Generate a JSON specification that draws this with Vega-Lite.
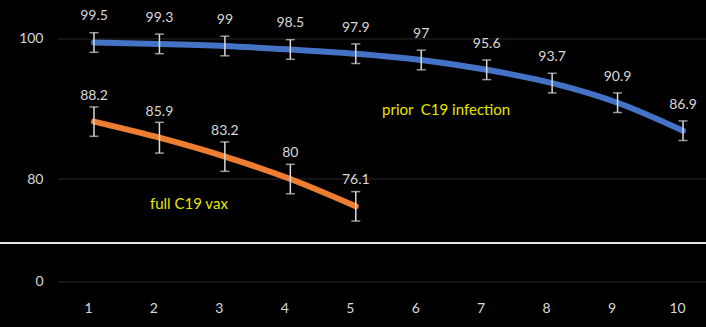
{
  "$schema": "https://vega.github.io/schema/vega-lite/v6.json",
  "width": 706,
  "height": 296,
  "autosize": {"type": "none"},
  "padding": {"left": 0, "top": 0, "right": 0, "bottom": 31},
  "background": "#000000",
  "config": {"view": {"stroke": null}, "font": "Lato"},
  "datasets": {
    "pts": [
      {"x": 1, "v": 99.5, "lo": 98.1, "hi": 100.9, "s": "prior"},
      {"x": 2, "v": 99.3, "lo": 97.9, "hi": 100.7, "s": "prior"},
      {"x": 3, "v": 99.0, "lo": 97.6, "hi": 100.4, "s": "prior"},
      {"x": 4, "v": 98.5, "lo": 97.1, "hi": 99.9, "s": "prior"},
      {"x": 5, "v": 97.9, "lo": 96.5, "hi": 99.3, "s": "prior"},
      {"x": 6, "v": 97.0, "lo": 95.6, "hi": 98.4, "s": "prior"},
      {"x": 7, "v": 95.6, "lo": 94.2, "hi": 97.0, "s": "prior"},
      {"x": 8, "v": 93.7, "lo": 92.3, "hi": 95.1, "s": "prior"},
      {"x": 9, "v": 90.9, "lo": 89.5, "hi": 92.3, "s": "prior"},
      {"x": 10, "v": 86.9, "lo": 85.5, "hi": 88.3, "s": "prior"},
      {"x": 1, "v": 88.2, "lo": 86.1, "hi": 90.3, "s": "full"},
      {"x": 2, "v": 85.9, "lo": 83.7, "hi": 88.1, "s": "full"},
      {"x": 3, "v": 83.2, "lo": 81.1, "hi": 85.3, "s": "full"},
      {"x": 4, "v": 80.0, "lo": 77.9, "hi": 82.1, "s": "full"},
      {"x": 5, "v": 76.1, "lo": 74.0, "hi": 78.2, "s": "full"}
    ],
    "grid": [{"g": 0}, {"g": 80}, {"g": 100}],
    "brk": [{"b": 40}],
    "notes": [
      {"x": 6.38, "y": 89.86, "label": "prior\u00a0 C19 infection"},
      {"x": 2.45, "y": 76.43, "label": "full C19 vax"}
    ]
  },
  "layer": [
    {
      "data": {"name": "grid"},
      "mark": {"type": "rule", "color": "#2b2b2b", "strokeWidth": 1},
      "encoding": {
        "y": {
          "field": "g", "type": "quantitative",
          "scale": {"domain": [-2, 5.57, 70.86, 105.57], "range": [296, 243, 243, 0], "nice": false, "zero": false},
          "axis": {"values": [0, 80, 100], "grid": false, "domain": false, "ticks": false, "labelColor": "#d9d9d9", "labelFontSize": 14, "labelPadding": 5, "offset": -48, "title": null}
        },
        "x": {
          "datum": 0.45, "type": "quantitative",
          "scale": {"domain": [-0.436, 10.351], "nice": false, "zero": false},
          "axis": {"values": [1, 2, 3, 4, 5, 6, 7, 8, 9, 10], "format": "d", "grid": false, "domain": false, "ticks": false, "labelColor": "#d9d9d9", "labelFontSize": 14, "labelPadding": 5, "labelOffset": -6, "title": null}
        },
        "x2": {"datum": 10.351}
      }
    },
    {
      "data": {"name": "brk"},
      "mark": {"type": "rule", "color": "#e6e6e6", "strokeWidth": 2},
      "encoding": {
        "y": {"field": "b", "type": "quantitative"},
        "x": {"datum": -0.436, "type": "quantitative"},
        "x2": {"datum": 10.351}
      }
    },
    {
      "data": {"name": "pts"},
      "mark": {"type": "line", "interpolate": "monotone", "strokeWidth": 6, "strokeCap": "round"},
      "encoding": {
        "x": {"field": "x", "type": "quantitative"},
        "y": {"field": "v", "type": "quantitative"},
        "color": {"field": "s", "type": "nominal", "scale": {"domain": ["prior", "full"], "range": ["#4472C4", "#ED7D31"]}, "legend": null}
      }
    },
    {
      "data": {"name": "pts"},
      "mark": {"type": "rule", "color": "#d9d9d9", "strokeWidth": 1.5},
      "encoding": {
        "x": {"field": "x", "type": "quantitative"},
        "y": {"field": "lo", "type": "quantitative"},
        "y2": {"field": "hi"}
      }
    },
    {
      "data": {"name": "pts"},
      "mark": {"type": "tick", "orient": "horizontal", "color": "#d9d9d9", "size": 9, "thickness": 1.5},
      "encoding": {
        "x": {"field": "x", "type": "quantitative"},
        "y": {"field": "lo", "type": "quantitative"}
      }
    },
    {
      "data": {"name": "pts"},
      "mark": {"type": "tick", "orient": "horizontal", "color": "#d9d9d9", "size": 9, "thickness": 1.5},
      "encoding": {
        "x": {"field": "x", "type": "quantitative"},
        "y": {"field": "hi", "type": "quantitative"}
      }
    },
    {
      "data": {"name": "pts"},
      "mark": {"type": "text", "dy": -26, "color": "#d9d9d9", "fontSize": 14, "baseline": "middle", "align": "center"},
      "encoding": {
        "x": {"field": "x", "type": "quantitative"},
        "y": {"field": "v", "type": "quantitative"},
        "text": {"field": "v", "type": "quantitative", "format": ".1~f"}
      }
    },
    {
      "data": {"name": "notes"},
      "mark": {"type": "text", "color": "#e6e600", "fontSize": 15, "baseline": "middle", "align": "center"},
      "encoding": {
        "x": {"field": "x", "type": "quantitative"},
        "y": {"field": "y", "type": "quantitative"},
        "text": {"field": "label"}
      }
    }
  ]
}
